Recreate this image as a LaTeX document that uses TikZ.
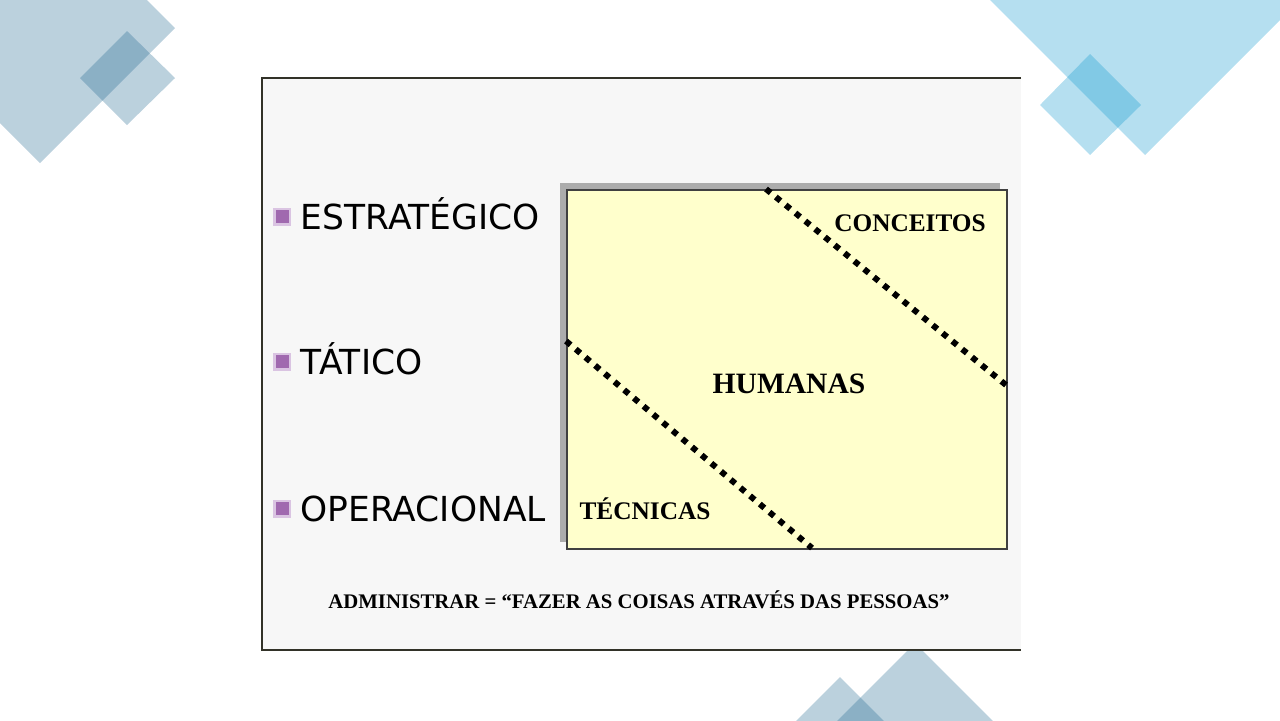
\documentclass[tikz,border=0pt]{standalone}
\usepackage{fontspec}
\setmainfont{Liberation Serif}
\newfontfamily\levelfont{DejaVu Sans}
\definecolor{steel}{RGB}{30,102,143}
\definecolor{sky}{RGB}{10,150,205}
\definecolor{slidegray}{RGB}{247,247,247}
\definecolor{pale}{RGB}{255,255,204}
\definecolor{framec}{RGB}{50,50,40}
\definecolor{lilac}{RGB}{218,196,226}
\definecolor{plum}{RGB}{160,105,175}
\tikzset{
  deco/.style={fill=#1, fill opacity=0.3},
  level/.style={anchor=west, inner sep=0pt, text height=0.73em, text depth=0pt,
    font=\levelfont\fontsize{9.8}{11}\selectfont},
  skill/.style={inner sep=0pt, text height=0.66em, text depth=0pt,
    font=\bfseries\fontsize{#1}{9}\selectfont},
  skill/.default=7.2,
  border/.style={line width=1.7pt, dash pattern=on 1.7pt off 1.9pt},
}

\begin{document}
\begin{tikzpicture}[x=0.01cm, y=-0.01cm]
    \useasboundingbox (0,0) rectangle (1280,720);
    % background shapes
    \fill[deco=steel] (40,-107) -- (175,28) -- (40,163) -- (-95,28) -- cycle;
    \fill[deco=steel] (127,31) -- (175,78) -- (127,125) -- (80,78) -- cycle;
    \fill[deco=sky] (1170,-190) -- (1330,-30) -- (1145,155) -- (985,-5) -- cycle;
    \fill[deco=sky] (1090,54) -- (1141,105) -- (1090,155) -- (1040,105) -- cycle;
    \fill[deco=steel] (915,643) -- (1000,728) -- (915,813) -- (830,728) -- cycle;
    \fill[deco=steel] (840,677) -- (890,727) -- (840,777) -- (790,727) -- cycle;
    % slide
    \fill[slidegray] (262,78) rectangle (1021,650);
    \draw[framec, line width=0.8pt] (1021,78) -- (262,78) -- (262,650) -- (1021,650);
    % levels
    \foreach \y/\name/\txt in {217/est/ESTRATÉGICO, 362/tat/TÁTICO, 509/ope/OPERACIONAL}{
        \fill[lilac] (273,\y-9) rectangle (291,\y+9);
        \fill[plum] (276,\y-7) rectangle (289,\y+6);
        \node[level] (\name) at (300,\y) {\txt};
    }
    % skills box
    \fill[gray!65] (560,183) rectangle (1000,542);
    \node[draw=black!75, fill=pale, line width=0.5pt, anchor=north west,
          minimum width=4.4cm, minimum height=3.59cm] (box) at (566,189) {};
    \coordinate (c1) at (766,189);
    \coordinate (c2) at (1006,385);
    \coordinate (t1) at (566,341);
    \coordinate (t2) at (812,548);
    \draw[border] (c1) -- (c2);
    \draw[border] (t1) -- (t2);
    \node[skill] (conc) at (910,220) {CONCEITOS};
    \node[skill=8.4] (hum) at (789,382) {HUMANAS};
    \node[skill] (tec) at (645,508) {TÉCNICAS};
    \node[skill=5.9] (lema) at (639,597) {ADMINISTRAR = “FAZER AS COISAS ATRAVÉS DAS PESSOAS”};
\end{tikzpicture}
\end{document}
